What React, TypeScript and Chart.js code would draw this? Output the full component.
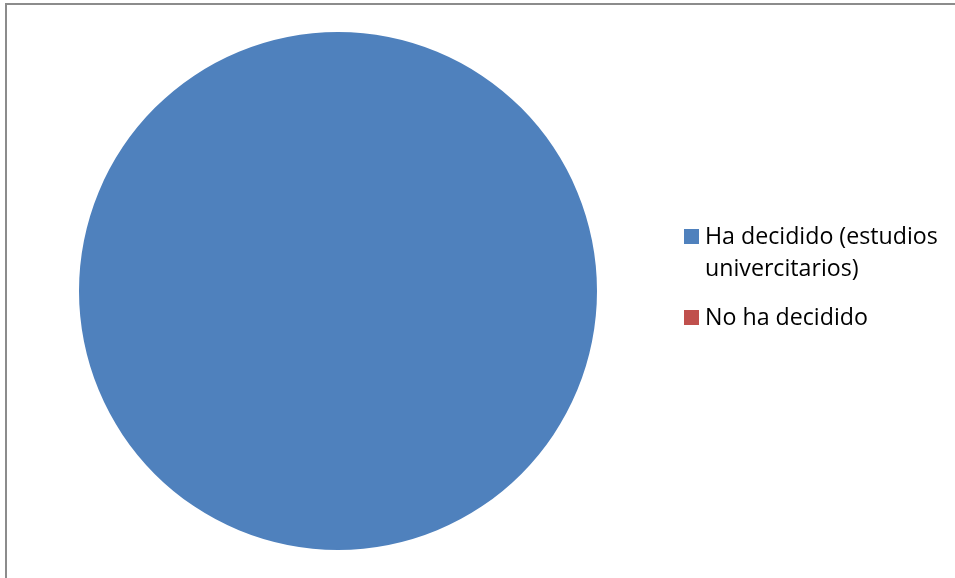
import React, { useEffect, useRef } from "react";
import { Chart, registerables } from "chart.js";

Chart.register(...registerables);

const categories = ["Ha decidido (estudios univercitarios)", "No ha decidido"];
const values = [100, 0];
const colors = ["#4f81bd", "#c0504d"];

const W = 955;
const H = 578;

const framePlugin = {
  id: "frame",
  beforeDraw(chart: any) {
    const ctx = chart.ctx;
    ctx.save();
    ctx.fillStyle = "#ffffff";
    ctx.fillRect(0, 0, chart.width, chart.height);
    ctx.fillStyle = "#8c8c8c";
    ctx.fillRect(5, 3, chart.width - 5, 2);
    ctx.fillRect(5, 3, 2, chart.height - 3);
    ctx.restore();
  },
};

const legendPlugin = {
  id: "customLegend",
  afterDraw(chart: any) {
    const ctx = chart.ctx;
    const labels: string[] = chart.data.labels;
    const bg: string[] = chart.data.datasets[0].backgroundColor;
    const family = "'Open Sans', 'Noto Sans', sans-serif";
    ctx.save();
    ctx.font = `100px ${family}`;
    const ref = ctx.measureText("Ha decidido (estudios").width;
    const size = Math.min(24, (233 / ref) * 100);
    ctx.font = `${size}px ${family}`;
    ctx.textBaseline = "alphabetic";
    ctx.textAlign = "left";
    const boxX = 684;
    const textX = 705;
    const maxW = 245;
    const lineH = 32;
    const itemGap = 49;
    let baseline = 244;
    labels.forEach((label, i) => {
      const words = label.split(" ");
      const lines: string[] = [];
      let cur = "";
      words.forEach((w) => {
        const test = cur ? cur + " " + w : w;
        if (ctx.measureText(test).width > maxW && cur) {
          lines.push(cur);
          cur = w;
        } else cur = test;
      });
      if (cur) lines.push(cur);
      ctx.fillStyle = bg[i];
      ctx.fillRect(boxX, baseline - 15, 15, 15);
      ctx.fillStyle = "#000000";
      lines.forEach((ln, j) => {
        ctx.fillText(ln, textX, baseline + j * lineH);
      });
      baseline += (lines.length - 1) * lineH + itemGap;
    });
    ctx.restore();
  },
};

export default function App() {
  const ref = useRef<HTMLCanvasElement | null>(null);
  useEffect(() => {
    if (!ref.current) return;
    const chart = new Chart(ref.current, {
      type: "pie",
      data: {
        labels: categories,
        datasets: [
          {
            data: values,
            backgroundColor: colors,
            borderWidth: 0,
          },
        ],
      },
      options: {
        animation: false,
        responsive: false,
        maintainAspectRatio: false,
        layout: { padding: { left: 79, right: 358, top: 32, bottom: 28 } },
        plugins: {
          legend: { display: false },
          tooltip: { enabled: false },
        },
      },
      plugins: [framePlugin, legendPlugin],
    });
    return () => chart.destroy();
  }, []);
  return (
    <div style={{ position: "fixed", left: 0, top: 0, width: W, height: H }}>
      <canvas ref={ref} width={W} height={H} style={{ width: W, height: H, display: "block" }} />
    </div>
  );
}
